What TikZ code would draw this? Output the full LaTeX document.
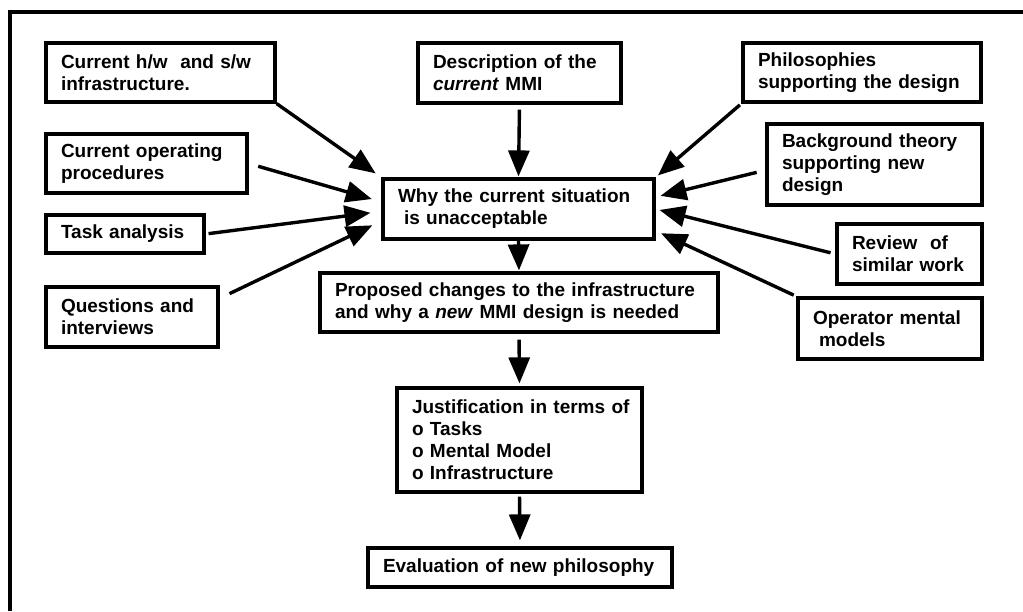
\documentclass[tikz,border=0pt]{standalone}
\usepackage{fontspec}
\setmainfont{Liberation Sans}
\usetikzlibrary{arrows.meta}
\begin{document}
\begin{tikzpicture}[x=1pt,y=1pt,
  bx/.style n args={3}{draw, line width=3.2pt, inner xsep=15pt, inner ysep=0pt,
    minimum width=#1pt, minimum height=#2pt, text width=#3pt, align=left,
    font=\fontsize{19}{22}\selectfont\bfseries},
  link/.style={line width=3.4pt, -{Triangle[length=26pt,width=21pt]}},
  frameline/.style={line width=3.4pt}]
\useasboundingbox (0,0) rectangle (1023,-611);

% outer frame (top and left edges)
\coordinate (fbl) at (10,-611);
\coordinate (ftl) at (10,-12);
\coordinate (ftr) at (1023,-12);
\draw[frameline] (fbl) -- (ftl) -- (ftr);

% input boxes, left column
\node[bx={229}{59}{199}] (hw) at (160.5,-72.5) {Current h/w\ \ and s/w\\infrastructure.};
\node[bx={201}{59}{171}] (ops) at (146.5,-163.5) {Current operating\\procedures};
\node[bx={158}{38}{128}] (task) at (125,-234) {Task~analysis};
\node[bx={172}{60}{142}] (quest) at (132,-317) {Questions and\\interviews};

% input boxes, top and right
\node[bx={203}{60}{173}] (desc) at (519.5,-73) {Description of the\\\textit{current} MMI};
\node[bx={238}{59}{208}] (phil) at (862,-72.5) {Philosophies\\supporting the design};
\node[bx={215}{81}{185}] (theory) at (874.5,-164.5) {Background theory\\supporting new\\design};
\node[bx={145}{60}{115}] (review) at (909.5,-254) {Review\ \ of\\similar~work};
\node[bx={184}{61}{154}] (mental) at (890,-328.5) {Operator~mental\\\hspace*{6pt}models};

% main chain
\node[bx={271}{60}{241}] (why) at (518.5,-209) {Why the current situation\\\hspace*{6pt}is unacceptable};
\node[bx={398}{59}{368}] (prop) at (519,-302.5) {Proposed changes to the infrastructure\\and why a \textit{new} MMI design is needed};
\node[bx={245}{104}{215}] (just) at (519.5,-440) {Justification~in~terms~of\\o Tasks\\o Mental Model\\o Infrastructure};
\node[bx={304}{39}{274}] (eval) at (520,-567.5) {Evaluation of new philosophy};

% converging arrows
\draw[link, shorten >=7pt] (hw.south east) -- (why.north west);
\draw[link, shorten <=10pt, shorten >=10pt] (ops.east) -- (why.177.5);
\draw[link, shorten <=3pt, shorten >=11pt] (task.east) -- (why.181);
\draw[link, shorten <=11pt, shorten >=10pt] (quest.12.7) -- (why.185.6);
\draw[link, shorten <=5pt, shorten >=1pt] (desc.south) -- (why.north);
\draw[link, shorten <=2pt, shorten >=3pt] (phil.south west) -- (why.north east);
\draw[link, shorten <=9pt, shorten >=5pt] (theory.183.5) -- (why.5.9);
\draw[link, shorten <=5pt, shorten >=4pt] (review.west) -- (why.east);
\draw[link, shorten <=3pt, shorten >=6pt] (mental.north west) -- (why.351.4);

% downward chain
\draw[link, shorten >=1pt] (why.south) -- (prop.north);
\draw[link, shorten <=6pt, shorten >=3pt] (prop.south) -- (just.north);
\draw[link, shorten <=3pt, shorten >=6pt] (just.south) -- (eval.north);
\end{tikzpicture}
\end{document}
